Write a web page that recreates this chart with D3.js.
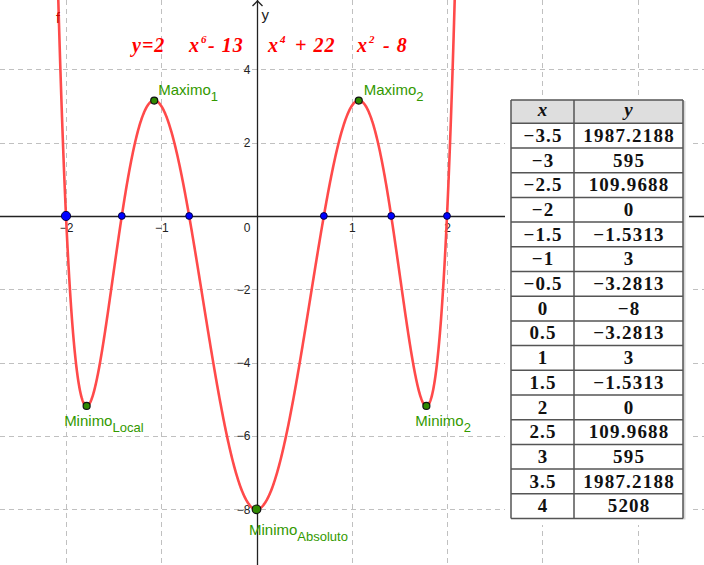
<!DOCTYPE html>
<html>
<head>
<meta charset="utf-8">
<script src="https://cdn.jsdelivr.net/npm/d3@7"></script>
<style>
  html, body { margin: 0; padding: 0; background: #fff; }
  svg { display: block; }
</style>
</head>
<body>
<svg id="chart" width="704" height="565"></svg>
<script>
// ---------- data ----------
// polynomial coefficients of f(x) = 2x^6 - 13x^4 + 22x^2 - 8 (highest degree first: x^6 .. x^0)
const coefficients = [2, 0, -13, 0, 22, 0, -8];
// x-intercepts (roots)
const rootsX = [-2, -1.4142, -0.7071, 0.7071, 1.4142, 2];
// named extrema
const extremaX = [-1.0737, 1.0737, -1.7834, 0, 1.7834];
const extremaY = [3.148, 3.148, -5.18, -8, -5.18];
const extremaName = ["Maximo", "Maximo", "Minimo", "Minimo", "Minimo"];
const extremaSub = ["1", "2", "Local", "Absoluto", "2"];
// table of values
const tableX = [-3.5, -3, -2.5, -2, -1.5, -1, -0.5, 0, 0.5, 1, 1.5, 2, 2.5, 3, 3.5, 4];
const tableY = [1987.2188, 595, 109.9688, 0, -1.5313, 3, -3.2813, -8, -3.2813, 3, -1.5313, 0, 109.9688, 595, 1987.2188, 5208];
// axis ticks
const xTicks = [-2, -1, 1, 2];
const yTicks = [4, 2, -2, -4, -6, -8];
const xGrid = [-2, -1, 1, 2, 3, 4];
const yGrid = [4, 2, -2, -4, -6, -8];
// title pieces
const titleParts = ["y=2", "x", "6", "- 13", "x", "4", "+ 22", "x", "2", "- 8"];

// ---------- setup ----------
const W = 704, H = 565;
const svg = d3.select("#chart");
const x = d3.scaleLinear().domain([-2, 2]).range([66, 447]);
const y = d3.scaleLinear().domain([4, -8]).range([69.3, 509.3]);
const f = xv => coefficients.reduce((acc, c) => acc * xv + c, 0);
const minus = s => String(s).replace(/-/g, "\u2212");

// grid
const grid = svg.append("g").attr("stroke", "#c0c0c0").attr("stroke-width", 1).attr("stroke-dasharray", "5,4");
grid.selectAll("line.v").data(xGrid).join("line").attr("class", "v")
  .attr("x1", d => Math.round(x(d)) + 0.5).attr("x2", d => Math.round(x(d)) + 0.5)
  .attr("y1", 0).attr("y2", H);
grid.selectAll("line.h").data(yGrid).join("line").attr("class", "h")
  .attr("y1", d => Math.round(y(d)) + 0.5).attr("y2", d => Math.round(y(d)) + 0.5)
  .attr("x1", 0).attr("x2", W);

// axes lines
const x0 = Math.round(x(0)) + 0.5, y0 = Math.round(y(0)) + 0.5;
const axes = svg.append("g").attr("stroke", "#222").attr("stroke-width", 1.3).attr("fill", "none");
axes.append("line").attr("x1", 0).attr("x2", W).attr("y1", y0).attr("y2", y0);
axes.append("line").attr("x1", x0).attr("x2", x0).attr("y1", 0).attr("y2", H);
axes.append("path").attr("d", `M${x0 - 5},${6} L${x0},${1} L${x0 + 5},${6}`);

// tick labels via d3 axes
const xAxis = svg.append("g").attr("transform", `translate(0,${y0})`)
  .call(d3.axisBottom(x).tickValues(xTicks).tickSize(0).tickPadding(7).tickFormat(d3.format("d")));
xAxis.select(".domain").remove();
const yAxis = svg.append("g").attr("transform", `translate(${x0},0)`)
  .call(d3.axisLeft(y).tickValues(yTicks).tickSize(0).tickPadding(7).tickFormat(d3.format("d")));
yAxis.select(".domain").remove();
svg.selectAll(".tick text").attr("font-family", "Liberation Sans, Arial, sans-serif").attr("font-size", 12).attr("fill", "#222");
svg.append("text").attr("x", x0 - 7).attr("y", y0 + 7).attr("dy", "0.71em").attr("text-anchor", "end")
  .attr("font-family", "Liberation Sans, Arial, sans-serif").attr("font-size", 12).attr("fill", "#222").text("0");
svg.append("text").attr("x", x0 + 4).attr("y", 20)
  .attr("font-family", "Liberation Sans, Arial, sans-serif").attr("font-size", 15).attr("fill", "#222").text("y");

// curve
const samples = d3.range(-2.25, 2.2501, 0.004);
const line = d3.line().x(d => x(d)).y(d => y(f(d))).defined(d => y(f(d)) > -50);
svg.append("path").datum(samples).attr("d", line)
  .attr("fill", "none").attr("stroke", "#ff4a4a").attr("stroke-width", 2.6).attr("stroke-linejoin", "round");
svg.append("text").attr("x", 56).attr("y", 23).attr("fill", "#cc0000")
  .attr("font-family", "Liberation Sans, Arial, sans-serif").attr("font-size", 14).text("f");

// title
const titleX = [132, 189, 201, 208, 268, 280, 295, 357, 369, 383];
const title = svg.append("g").attr("fill", "#ff0000")
  .attr("font-family", "Liberation Serif, DejaVu Serif, serif").attr("font-weight", "bold").attr("font-style", "italic");
titleParts.forEach((t, i) => {
  const sup = /^[0-9]$/.test(t) && i > 0 && titleParts[i - 1] === "x";
  title.append("text").attr("x", titleX[i]).attr("y", sup ? 43 : 52)
    .attr("font-size", sup ? 11 : 20).attr("letter-spacing", sup ? 0 : 1).text(t);
});

// roots
svg.append("g").selectAll("circle").data(rootsX).join("circle")
  .attr("cx", d => x(d)).attr("cy", y(0)).attr("r", (d, i) => i === 0 ? 4.6 : 3.4)
  .attr("fill", "#0000ff").attr("stroke", "#000044").attr("stroke-width", 1);

// extrema
const ext = extremaX.map((d, i) => ({ x: d, y: extremaY[i], name: extremaName[i], sub: extremaSub[i] }));
svg.append("g").selectAll("circle").data(ext).join("circle")
  .attr("cx", d => x(d.x)).attr("cy", d => y(d.y)).attr("r", d => d.sub === "Absoluto" ? 4.3 : 3.5)
  .attr("fill", "#2f8a00").attr("stroke", "#111").attr("stroke-width", 1.2);
const lbl = svg.append("g").selectAll("text").data(ext).join("text")
  .attr("x", d => x(d.x) + (d.name === "Maximo" ? (d.sub === "1" ? 4 : 5) : (d.sub === "Local" ? -22.5 : d.sub === "Absoluto" ? -7.5 : -11)))
  .attr("y", d => y(d.y) + (d.name === "Maximo" ? -6 : (d.sub === "Absoluto" ? 26 : 20)))
  .attr("fill", "#339900").attr("font-family", "Liberation Sans, Arial, sans-serif").attr("font-size", 15);
lbl.append("tspan").text(d => d.name);
lbl.append("tspan").attr("dy", 6).attr("font-size", 13).text(d => d.sub);

// table
const tbl = svg.append("g");
const tL = 511, tM = 574, tR = 683, tTop = 100, hH = 23.3, rH = 24.7;
tbl.append("rect").attr("x", 505).attr("y", 95).attr("width", 184).attr("height", 430).attr("fill", "#fff");
tbl.append("rect").attr("x", tR).attr("y", tTop + 1).attr("width", 2.5).attr("height", hH + rH * tableX.length).attr("fill", "#d8d8d8");
tbl.append("rect").attr("x", tL).attr("y", tTop).attr("width", tR - tL).attr("height", hH).attr("fill", "#dedede");
const rowsY = tableX.map((d, i) => tTop + hH + i * rH);
tbl.append("g").selectAll("line").data([tTop, ...rowsY, tTop + hH + tableX.length * rH]).join("line")
  .attr("x1", tL).attr("x2", tR).attr("y1", d => d).attr("y2", d => d).attr("stroke", "#555").attr("stroke-width", 1.5);
tbl.append("g").selectAll("line").data([tL, tM, tR]).join("line")
  .attr("x1", d => d).attr("x2", d => d).attr("y1", tTop).attr("y2", tTop + hH + tableX.length * rH)
  .attr("stroke", "#555").attr("stroke-width", 1.5);
const hdr = tbl.append("g").attr("font-family", "Liberation Serif, DejaVu Serif, serif").attr("font-weight", "bold")
  .attr("font-style", "italic").attr("font-size", 19).attr("text-anchor", "middle").attr("fill", "#111");
hdr.append("text").attr("x", (tL + tM) / 2).attr("y", tTop + 16).text("x");
hdr.append("text").attr("x", (tM + tR) / 2).attr("y", tTop + 16).text("y");
const cells = tbl.append("g").attr("font-family", "Liberation Serif, DejaVu Serif, serif").attr("font-weight", "bold")
  .attr("font-size", 19).attr("text-anchor", "middle").attr("fill", "#111");
cells.selectAll("text.cx").data(tableX).join("text").attr("class", "cx")
  .attr("x", (tL + tM) / 2 + 0.6).attr("y", (d, i) => rowsY[i] + 18.5).attr("letter-spacing", 1.2).text(d => minus(d));
cells.selectAll("text.cy").data(tableY).join("text").attr("class", "cy")
  .attr("x", (tM + tR) / 2 + 0.6).attr("y", (d, i) => rowsY[i] + 18.5).attr("letter-spacing", 1.2).text(d => minus(d));
</script>
</body>
</html>
